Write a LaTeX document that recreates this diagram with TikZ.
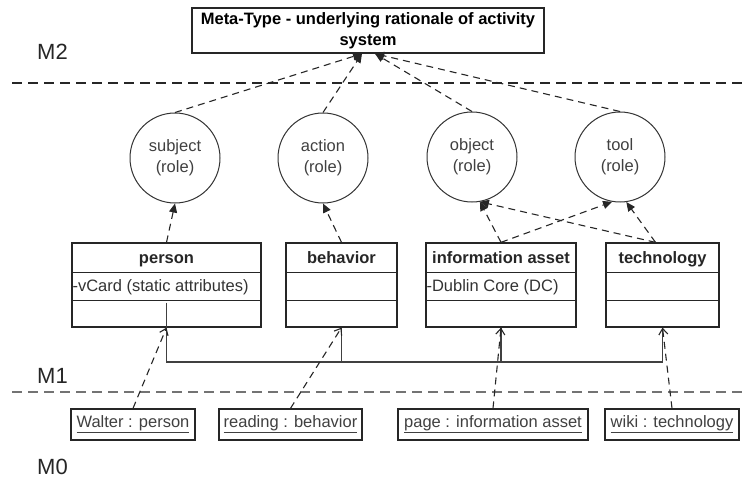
\documentclass[tikz,border=0pt]{standalone}
\usepackage{fontspec}
\setmainfont{Liberation Sans}
\usetikzlibrary{arrows.meta}

\begin{document}
\begin{tikzpicture}[
                x=1pt, y=-1pt,
                font=\fontsize{16.5}{21}\selectfont,
                metabox/.style={draw=black!85, line width=1.4pt, minimum width=352pt, minimum height=45pt,
                    align=center, inner sep=0pt, font=\fontsize{16.5}{21}\selectfont\bfseries},
                role/.style={draw=black!80, line width=1pt, circle, minimum size=90pt, inner sep=0pt,
                    align=center, text=black!75},
                classbox/.style={draw=black!85, line width=1.3pt, minimum height=84pt, inner sep=0pt},
                instbox/.style={draw=black!85, line width=1.3pt, minimum height=31pt, inner sep=0pt, text=black!75},
                realize/.style={dash pattern=on 7pt off 5pt, line width=1.1pt, black!85,
                    -{Triangle[length=9pt, width=8pt]}},
                instof/.style={dash pattern=on 7pt off 5pt, line width=1.1pt, black!85,
                    -{Straight Barb[length=6pt, width=9pt]}},
                bus/.style={line width=1.2pt, black!75},
                level/.style={dash pattern=on 10pt off 6pt, line width=2pt},
                levellabel/.style={anchor=west, inner sep=0pt, text=black!85, font=\fontsize{22}{26}\selectfont}
            ]

            \useasboundingbox (0,0) rectangle (744,481);

            % levels
            \draw[level, black!85] (12,83) -- (744,83);
            \draw[level, black!55] (12,392) -- (744,392);
            \node[levellabel] (M2) at (37,52) {M2};
            \node[levellabel] (M1) at (37,376) {M1};
            \node[levellabel] (M0) at (37,467) {M0};

            \node[metabox] (MT) at (368,30.5) {Meta-Type - underlying rationale of activity\\system};
            \coordinate (MTl) at ([xshift=-6pt]MT.south);
            \coordinate (MTr) at ([xshift=7pt]MT.south);

            \foreach \n/\cx/\cy/\t in {Sub/175/158/subject, Act/323/158/action,
                    Obj/472/157/object, Tool/620/157/tool} {
                    \node[role] (\n) at (\cx,\cy) {\t\\(role)};
                }

            \foreach \n/\cx/\w/\t/\a in {Per/166.5/189/person/-vCard (static attributes),
                    Beh/341.5/111/behavior/{}, Inf/501/150/information asset/-Dublin Core (DC),
                    Tec/662.5/113/technology/{}} {
                    \node[classbox, minimum width=\w] (\n) at (\cx,285) {};
                    \draw[black!85, line width=1.1pt] ([yshift=-30pt]\n.north west) -- ([yshift=-30pt]\n.north east);
                    \draw[black!85, line width=1.1pt] ([yshift=-58pt]\n.north west) -- ([yshift=-58pt]\n.north east);
                    \node[anchor=base, inner sep=0pt, font=\fontsize{16.5}{21}\selectfont\bfseries, text=black!85]
                        at ([yshift=-21pt]\n.north) {\t};
                    \node[anchor=base west, inner sep=1pt, text=black!80] at ([yshift=-49pt]\n.north west) {\a};
                }

            \foreach \n/\cx/\w/\t in {Wal/133/124/Walter : person, Rea/290.5/143/reading : behavior,
                    Pag/493/190/page : information asset, Wik/672/134/wiki : technology} {
                    \node[instbox, minimum width=\w] (\n) at (\cx,424.5) {\underline{\t}};
                }

            \draw[realize] (Sub.north) -- (MTl);
            \draw[realize] (Act.north) -- (MTl);
            \draw[realize] (Obj.north) -- (MTr);
            \draw[realize] (Tool.north) -- (MTr);

            \draw[realize] (Per.north) -- (Sub.south);
            \draw[realize] (Beh.north) -- (Act.south);
            \draw[realize] (Inf.north) -- (Obj.-80);
            \draw[realize] (Inf.north) -- (Tool.-100);
            \draw[realize] ([xshift=-7pt]Tec.north) -- (Obj.-80);
            \draw[realize] ([xshift=-7pt]Tec.north) -- (Tool.-82);

            \coordinate (B) at (0,362);
            \draw[bus] ([yshift=25pt]Per.south) |- (Tec.south |- B) -- (Tec.south);
            \draw[bus] (Beh.south) -- (Beh.south |- B);
            \draw[bus] (Inf.south) -- (Inf.south |- B);

            \draw[instof] (Wal.north) -- (Per.south);
            \draw[instof] (Rea.north) -- (Beh.south);
            \draw[instof] (Pag.north) -- (Inf.south);
            \draw[instof] (Wik.north) -- (Tec.south);
        \end{tikzpicture}
\end{document}
